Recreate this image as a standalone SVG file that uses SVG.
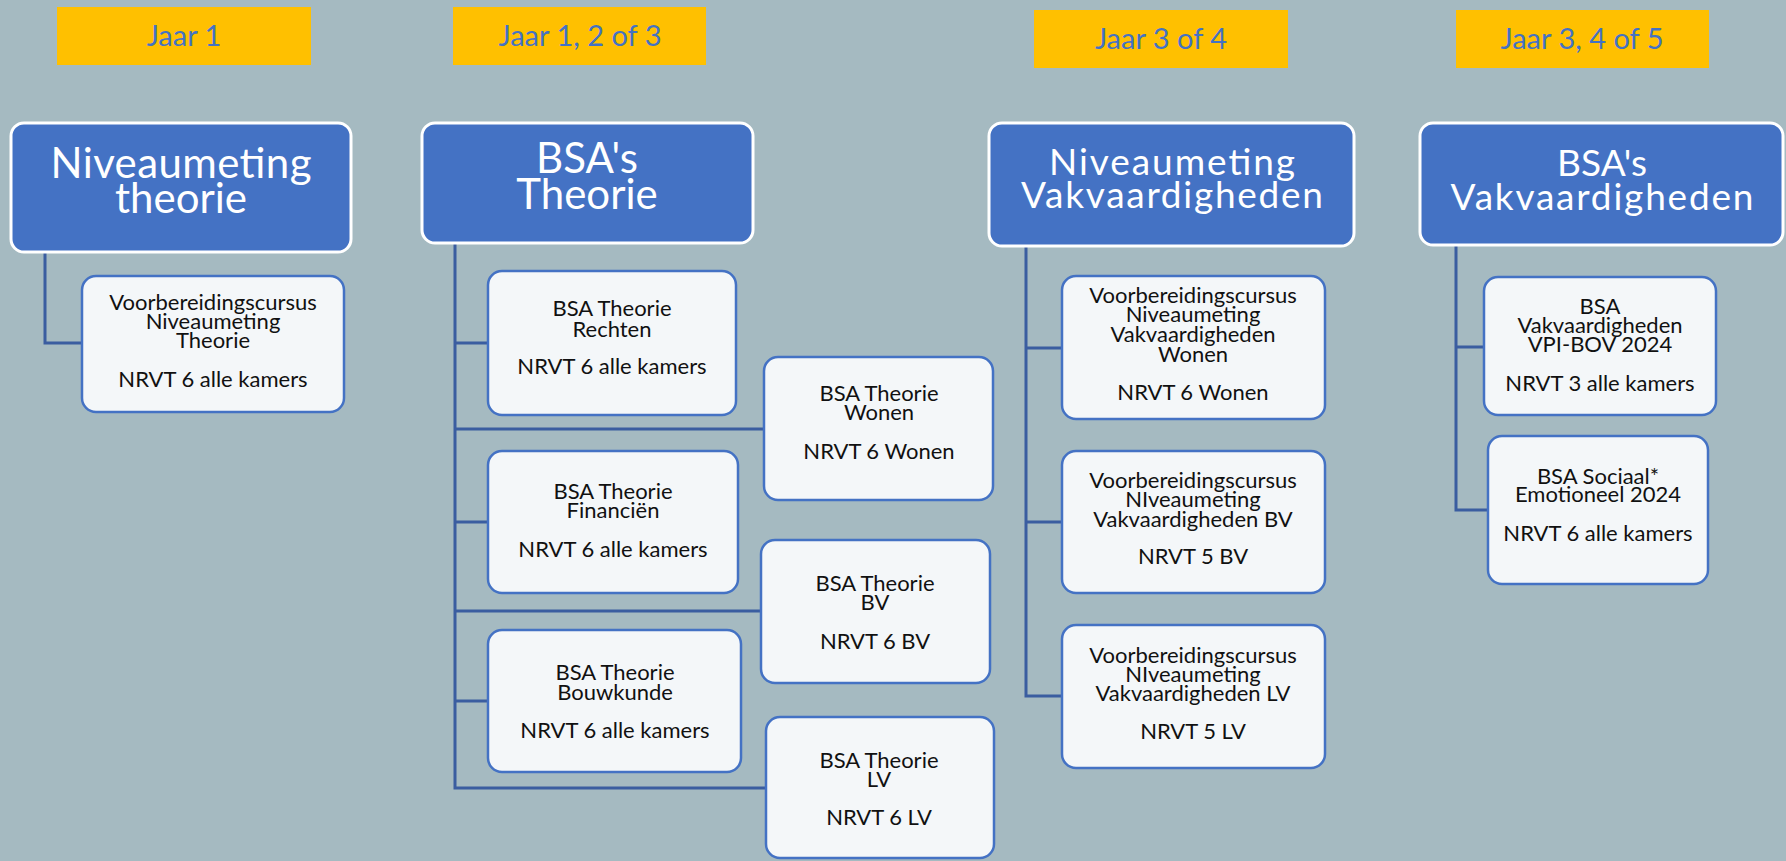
<svg xmlns="http://www.w3.org/2000/svg" width="1786" height="861" viewBox="0 0 1786 861">
<style>
.bg{fill:#A5BAC1}
.jaar{fill:#FFC000}
.jt{font-family:Lato,"Noto Sans",sans-serif;font-size:29px;fill:#4472C4;text-anchor:middle}
.hd{fill:#4472C4;stroke:#FFFFFF;stroke-width:3}
.ht{font-family:Lato,"Noto Sans",sans-serif;font-size:42px;fill:#FFFFFF;text-anchor:middle}
.hs{font-size:37px}
.ch{fill:#F4F7F9;stroke:#4472C4;stroke-width:2.5}
.ct{font-family:Lato,"Noto Sans",sans-serif;font-size:22px;fill:#111111;text-anchor:middle}
.cn{fill:none;stroke:#3A5DA0;stroke-width:3}
</style>
<rect class="bg" x="0" y="0" width="1786" height="861"/>
<g id="labels">
<rect class="jaar" x="57" y="7" width="254" height="58"/><text class="jt" x="184" y="46">Jaar 1</text>
<rect class="jaar" x="453" y="7" width="253" height="58"/><text class="jt" x="580" y="46">Jaar 1, 2 of 3</text>
<rect class="jaar" x="1034" y="10" width="254" height="58"/><text class="jt" x="1161" y="49">Jaar 3 of 4</text>
<rect class="jaar" x="1456" y="10" width="253" height="58"/><text class="jt" x="1582" y="49">Jaar 3, 4 of 5</text>
</g>
<g id="connectors">
<path class="cn" d="M45 252 V343 H82"/>
<path class="cn" d="M455 243 V788 H766 M455 343 H488 M455 429 H764 M455 522 H488 M455 611 H761 M455 701 H488"/>
<path class="cn" d="M1026 246 V696 H1062 M1026 348 H1062 M1026 522 H1062"/>
<path class="cn" d="M1456 245 V510 H1488 M1456 347 H1484"/>
</g>
<g id="n1">
<rect class="hd" x="11" y="123" width="340" height="129" rx="13"/>
<text class="ht" x="181" y="178" textLength="261">Niveaumeting</text><text class="ht" x="181" y="213" textLength="132">theorie</text>
</g>
<g id="n1a">
<rect class="ch" x="82" y="276" width="262" height="136" rx="14"/>
<text class="ct" x="213" y="310">Voorbereidingscursus</text><text class="ct" x="213" y="329">Niveaumeting</text><text class="ct" x="213" y="348">Theorie</text><text class="ct" x="213" y="387">NRVT 6 alle kamers</text>
</g>
<g id="n2">
<rect class="hd" x="422" y="123" width="331" height="120" rx="13"/>
<text class="ht" x="587" y="173">BSA's</text><text class="ht" x="587" y="209">Theorie</text>
</g>
<g id="n2a">
<rect class="ch" x="488" y="271" width="248" height="144" rx="14"/>
<text class="ct" x="612" y="316">BSA Theorie</text><text class="ct" x="612" y="337">Rechten</text><text class="ct" x="612" y="374">NRVT 6 alle kamers</text>
</g>
<g id="n2b">
<rect class="ch" x="764" y="357" width="229" height="143" rx="14"/>
<text class="ct" x="879" y="401">BSA Theorie</text><text class="ct" x="879" y="420">Wonen</text><text class="ct" x="879" y="459">NRVT 6 Wonen</text>
</g>
<g id="n2c">
<rect class="ch" x="488" y="451" width="250" height="142" rx="14"/>
<text class="ct" x="613" y="499">BSA Theorie</text><text class="ct" x="613" y="518">Financiën</text><text class="ct" x="613" y="557">NRVT 6 alle kamers</text>
</g>
<g id="n2d">
<rect class="ch" x="761" y="540" width="229" height="143" rx="14"/>
<text class="ct" x="875" y="591">BSA Theorie</text><text class="ct" x="875" y="610">BV</text><text class="ct" x="875" y="649">NRVT 6 BV</text>
</g>
<g id="n2e">
<rect class="ch" x="488" y="630" width="253" height="142" rx="14"/>
<text class="ct" x="615" y="680">BSA Theorie</text><text class="ct" x="615" y="700">Bouwkunde</text><text class="ct" x="615" y="738">NRVT 6 alle kamers</text>
</g>
<g id="n2f">
<rect class="ch" x="766" y="717" width="228" height="141" rx="14"/>
<text class="ct" x="879" y="768">BSA Theorie</text><text class="ct" x="879" y="787">LV</text><text class="ct" x="879" y="825">NRVT 6 LV</text>
</g>
<g id="n3">
<rect class="hd" x="989" y="123" width="365" height="123" rx="13"/>
<text class="ht hs" x="1172" y="175" textLength="246">Niveaumeting</text><text class="ht hs" x="1172" y="208" textLength="302">Vakvaardigheden</text>
</g>
<g id="n3a">
<rect class="ch" x="1062" y="276" width="263" height="143" rx="14"/>
<text class="ct" x="1193" y="303">Voorbereidingscursus</text><text class="ct" x="1193" y="322">Niveaumeting</text><text class="ct" x="1193" y="342">Vakvaardigheden</text><text class="ct" x="1193" y="362">Wonen</text><text class="ct" x="1193" y="400">NRVT 6 Wonen</text>
</g>
<g id="n3b">
<rect class="ch" x="1062" y="451" width="263" height="142" rx="14"/>
<text class="ct" x="1193" y="488">Voorbereidingscursus</text><text class="ct" x="1193" y="507">NIveaumeting</text><text class="ct" x="1193" y="527">Vakvaardigheden BV</text><text class="ct" x="1193" y="564">NRVT 5 BV</text>
</g>
<g id="n3c">
<rect class="ch" x="1062" y="625" width="263" height="143" rx="14"/>
<text class="ct" x="1193" y="663">Voorbereidingscursus</text><text class="ct" x="1193" y="682">NIveaumeting</text><text class="ct" x="1193" y="701">Vakvaardigheden LV</text><text class="ct" x="1193" y="739">NRVT 5 LV</text>
</g>
<g id="n4">
<rect class="hd" x="1420" y="123" width="363" height="122" rx="13"/>
<text class="ht hs" x="1602" y="176" textLength="90">BSA's</text><text class="ht hs" x="1602" y="210" textLength="303">Vakvaardigheden</text>
</g>
<g id="n4a">
<rect class="ch" x="1484" y="277" width="232" height="138" rx="14"/>
<text class="ct" x="1600" y="314">BSA</text><text class="ct" x="1600" y="333">Vakvaardigheden</text><text class="ct" x="1600" y="352">VPI-BOV 2024</text><text class="ct" x="1600" y="391">NRVT 3 alle kamers</text>
</g>
<g id="n4b">
<rect class="ch" x="1488" y="436" width="220" height="148" rx="14"/>
<text class="ct" x="1598" y="484">BSA Sociaal*</text><text class="ct" x="1598" y="502">Emotioneel 2024</text><text class="ct" x="1598" y="541">NRVT 6 alle kamers</text>
</g>
</svg>
